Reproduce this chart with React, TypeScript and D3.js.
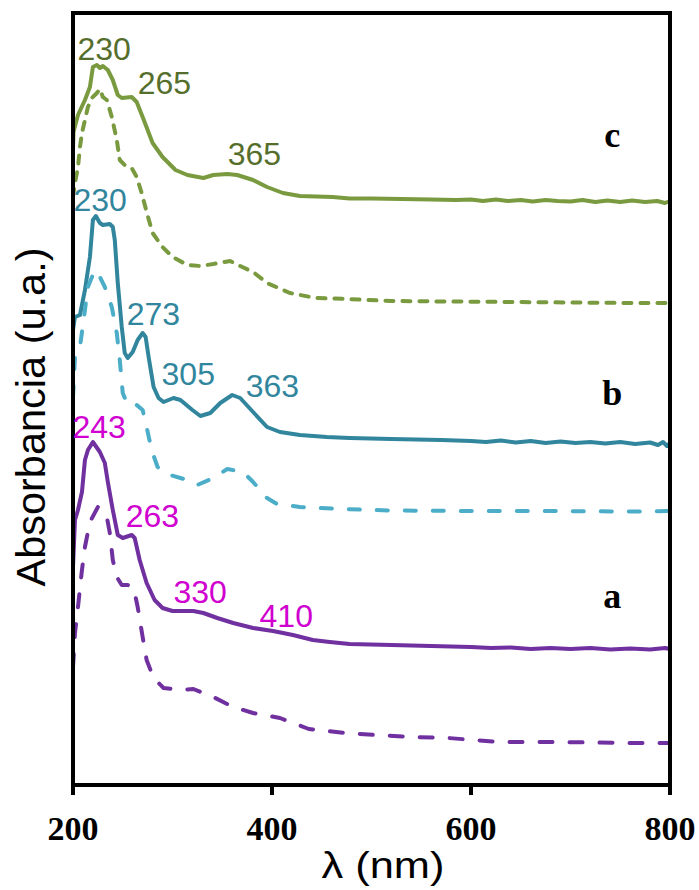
import React from "react";
import * as d3 from "d3";

// ---- Data (wavelength in nm, absorbance in arbitrary offset units) ----
const cSolidX = [200, 200.5, 205, 212, 217, 220, 224, 227, 230, 235, 240, 245, 249, 259, 264, 270, 280, 290, 303, 315, 331, 341, 355, 365, 381, 395, 411, 428, 461, 478, 500, 530, 560, 585, 600, 612, 625, 637, 650, 662, 675, 687, 700, 712, 725, 737, 750, 762, 775, 787, 795, 800];
const cSolidY = [6.35, 6.53, 6.7, 6.85, 6.98, 7.18, 7.2, 7.17, 7.19, 7.15, 7.05, 6.9, 6.87, 6.88, 6.83, 6.68, 6.42, 6.28, 6.15, 6.1, 6.07, 6.1, 6.11, 6.1, 6.05, 5.98, 5.92, 5.89, 5.88, 5.865, 5.865, 5.86, 5.855, 5.85, 5.855, 5.84, 5.855, 5.84, 5.85, 5.835, 5.85, 5.84, 5.835, 5.85, 5.83, 5.845, 5.83, 5.845, 5.83, 5.84, 5.82, 5.84];

const cDashX = [200, 202, 205, 207, 209, 212, 215, 219, 224, 227, 230, 234, 239, 244, 247, 252, 259, 264, 269, 274, 280, 290, 300, 315, 328, 341, 358, 368, 381, 395, 418, 444, 475, 520, 580, 640, 700, 760, 800];
const cDashY = [5.88, 6.02, 6.18, 6.38, 6.52, 6.65, 6.78, 6.87, 6.92, 6.96, 6.88, 6.85, 6.68, 6.45, 6.25, 6.2, 6.17, 6.08, 5.92, 5.73, 5.52, 5.38, 5.28, 5.2, 5.19, 5.21, 5.24, 5.19, 5.13, 5.02, 4.92, 4.87, 4.86, 4.84, 4.835, 4.83, 4.825, 4.82, 4.82];

const bSolidX = [200, 202, 207, 212, 217, 220, 223, 227, 230, 237, 240, 242, 245, 249, 252, 255, 260, 265, 270, 273, 276, 281, 286, 291, 301, 308, 320, 328, 338, 348, 360, 368, 381, 395, 408, 428, 455, 478, 520, 570, 600, 615, 630, 645, 660, 675, 690, 705, 720, 735, 750, 765, 780, 788, 793, 797, 800];
const bSolidY = [4.55, 4.68, 4.7, 4.95, 5.28, 5.65, 5.69, 5.62, 5.6, 5.61, 5.58, 5.45, 5.02, 4.58, 4.32, 4.27, 4.33, 4.45, 4.52, 4.48, 4.28, 3.98, 3.87, 3.83, 3.87, 3.85, 3.75, 3.69, 3.72, 3.82, 3.9, 3.87, 3.73, 3.58, 3.53, 3.5, 3.48, 3.47, 3.46, 3.45, 3.44, 3.43, 3.445, 3.425, 3.44, 3.42, 3.435, 3.42, 3.43, 3.415, 3.43, 3.41, 3.425, 3.4, 3.43, 3.39, 3.42];

const bDashX = [200, 202, 207, 212, 215, 222, 227, 232, 239, 244, 247, 250, 255, 264, 270, 274, 279, 285, 294, 315, 325, 341, 355, 371, 381, 395, 405, 428, 468, 520, 600, 680, 760, 800];
const bDashY = [3.88, 4.28, 4.38, 4.75, 4.98, 5.15, 5.08, 4.98, 4.78, 4.52, 4.25, 3.92, 3.8, 3.8, 3.75, 3.58, 3.35, 3.18, 3.11, 3.05, 3.0, 3.07, 3.16, 3.13, 3.03, 2.87, 2.81, 2.78, 2.76, 2.745, 2.74, 2.74, 2.735, 2.74];

const aSolidX = [200, 202, 205, 209, 212, 215, 220, 227, 232, 235, 240, 245, 250, 259, 262, 267, 274, 282, 290, 300, 321, 331, 345, 361, 381, 401, 421, 441, 458, 478, 520, 560, 600, 620, 640, 660, 680, 700, 720, 740, 760, 780, 795, 800];
const aSolidY = [2.18, 2.65, 2.75, 2.93, 3.25, 3.35, 3.43, 3.33, 3.22, 3.03, 2.75, 2.5, 2.47, 2.5, 2.47, 2.25, 2.02, 1.85, 1.77, 1.74, 1.74, 1.72, 1.67, 1.62, 1.57, 1.54, 1.5, 1.45, 1.43, 1.41, 1.4, 1.39, 1.38, 1.37, 1.375, 1.36, 1.37, 1.36, 1.37, 1.355, 1.365, 1.355, 1.37, 1.36];

const aDashX = [200, 202, 205, 209, 212, 217, 225, 234, 237, 240, 244, 249, 255, 261, 265, 270, 274, 281, 291, 308, 321, 341, 361, 381, 408, 437, 473, 505, 541, 577, 603, 630, 688, 755, 800];
const aDashY = [1.18, 1.52, 1.78, 2.15, 2.38, 2.63, 2.78, 2.68, 2.52, 2.25, 2.08, 2.0, 2.0, 1.97, 1.78, 1.48, 1.25, 1.07, 0.97, 0.95, 0.96, 0.88, 0.78, 0.72, 0.67, 0.56, 0.52, 0.5, 0.48, 0.47, 0.45, 0.43, 0.43, 0.42, 0.42];

const xTicks = [200, 400, 600, 800];

// Peak annotations: text, wavelength (start), absorbance (baseline)
const cPeakText = ["230", "265", "365"];
const cPeakX = [204.5, 265, 355.5];
const cPeakY = [7.25, 6.91, 6.2];
const bPeakText = ["230", "273", "305", "363"];
const bPeakX = [200.5, 254, 289, 373.5];
const bPeakY = [5.74, 4.6, 4.0, 3.88];
const aPeakText = ["243", "263", "330", "410"];
const aPeakX = [199.5, 253, 301, 387.5];
const aPeakY = [3.47, 2.58, 1.82, 1.58];

const seriesLetters = ["c", "b", "a"];
const seriesLetterX = [742, 742, 742];
const seriesLetterY = [6.38, 3.8, 1.77];

const W = 699;
const H = 890;
const left = 73, right = 670, top = 13, bottom = 785;

const x = d3.scaleLinear().domain([200, 800]).range([left, right]);
const y = d3.scaleLinear().domain([0, 7.72]).range([bottom, top]);

const line = d3
  .line<[number, number]>()
  .x((d) => x(d[0]))
  .y((d) => y(d[1]));

const zip = (xs: number[], ys: number[]) => xs.map((v, i) => [v, ys[i]] as [number, number]);

const GREEN = "#7a9a40";
const GREEN_TEXT = "#566e2c";
const TEAL = "#31869d";
const CYAN = "#4badc7";
const PURPLE = "#7030a0";
const MAGENTA = "#d000d0";

const curves = [
  { d: zip(cSolidX, cSolidY), color: GREEN, dash: undefined },
  { d: zip(cDashX, cDashY), color: GREEN, dash: "8,9" },
  { d: zip(bSolidX, bSolidY), color: TEAL, dash: undefined },
  { d: zip(bDashX, bDashY), color: CYAN, dash: "11,17" },
  { d: zip(aSolidX, aSolidY), color: PURPLE, dash: undefined },
  { d: zip(aDashX, aDashY), color: PURPLE, dash: "13,17" },
];

const peaks = [
  { t: cPeakText, xs: cPeakX, ys: cPeakY, color: GREEN_TEXT },
  { t: bPeakText, xs: bPeakX, ys: bPeakY, color: TEAL },
  { t: aPeakText, xs: aPeakX, ys: aPeakY, color: MAGENTA },
];

export default function App() {
  return (
    <svg
      width={W}
      height={H}
      style={{ position: "absolute", left: 0, top: 0, background: "#fff" }}
    >
      <rect x={0} y={0} width={W} height={H} fill="#fff" />
      {curves.map((c, i) => (
        <path
          key={i}
          d={line(c.d) || ""}
          fill="none"
          stroke={c.color}
          strokeWidth={4}
          strokeLinejoin="round"
          strokeLinecap={c.dash ? "round" : "butt"}
          strokeDasharray={c.dash}
        />
      ))}
      {/* frame */}
      <rect
        x={left}
        y={top}
        width={right - left}
        height={bottom - top}
        fill="none"
        stroke="#000"
        strokeWidth={4}
      />
      {xTicks.map((t) => (
        <g key={t}>
          <line x1={x(t)} x2={x(t)} y1={bottom} y2={bottom + 10} stroke="#000" strokeWidth={4} />
          <text
            x={x(t)}
            y={bottom + 55}
            textAnchor="middle"
            fontFamily="'Liberation Serif', 'Times New Roman', serif"
            fontWeight="bold"
            fontSize={34}
            fill="#000"
          >
            {t}
          </text>
        </g>
      ))}
      <text
        x={383}
        y={878}
        textAnchor="middle"
        fontFamily="'Liberation Sans', Arial, sans-serif"
        fontSize={36}
        fill="#000"
        textLength={123}
        lengthAdjust="spacingAndGlyphs"
      >
        λ (nm)
      </text>
      <text
        transform="translate(45,417) rotate(-90)"
        textAnchor="middle"
        fontFamily="'Liberation Sans', Arial, sans-serif"
        fontSize={41.5}
        fill="#000"
      >
        Absorbancia (u.a.)
      </text>
      {peaks.map((p, i) =>
        p.t.map((t, j) => (
          <text
            key={`${i}-${j}`}
            x={x(p.xs[j])}
            y={y(p.ys[j])}
            fontFamily="'Liberation Sans', Arial, sans-serif"
            fontSize={32}
            fill={p.color}
          >
            {t}
          </text>
        ))
      )}
      {seriesLetters.map((s, i) => (
        <text
          key={s}
          x={x(seriesLetterX[i])}
          y={y(seriesLetterY[i])}
          textAnchor="middle"
          fontFamily="'Liberation Serif', 'Times New Roman', serif"
          fontWeight="bold"
          fontSize={36}
          fill="#000"
        >
          {s}
        </text>
      ))}
    </svg>
  );
}
